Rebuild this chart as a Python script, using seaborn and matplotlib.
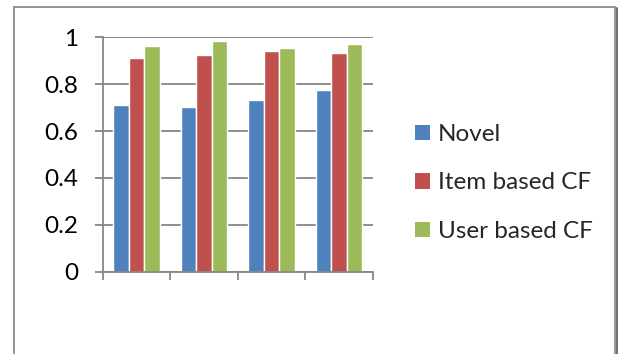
import matplotlib
matplotlib.use("Agg")
import matplotlib.pyplot as plt
from matplotlib.patches import Rectangle, Patch
from matplotlib.lines import Line2D
import seaborn as sns
import pandas as pd

# Data
groups = ["1", "2", "3", "4"]
series = ["Novel", "Item based CF", "User based CF"]
novel = [0.711, 0.703, 0.733, 0.775]
item_cf = [0.912, 0.924, 0.942, 0.933]
user_cf = [0.963, 0.984, 0.954, 0.971]
y_ticks = [0, 0.2, 0.4, 0.6, 0.8, 1]
y_tick_labels = ["0", "0.2", "0.4", "0.6", "0.8", "1"]
colors = ["#4F81BD", "#C0504D", "#9BBB59"]

df = pd.DataFrame({
    "group": groups * 3,
    "series": [s for s in series for _ in groups],
    "value": novel + item_cf + user_cf,
})

sns.set_theme(style="white")
plt.rcParams["font.family"] = ["Lato", "DejaVu Sans"]

W, H = 619, 354
fig = plt.figure(figsize=(W / 100, H / 100), dpi=100)
ax = fig.add_axes([102.7 / W, 1 - 271.7 / H, 270 / W, 234.4 / H])

sns.barplot(data=df, x="group", y="value", hue="series", hue_order=series,
            palette=colors, width=0.69, gap=0, saturation=1, ax=ax,
            legend=False, errorbar=None)

ax.set_xlim(-0.5, 3.5)
ax.set_ylim(0, 1)
ax.set_xlabel("")
ax.set_ylabel("")

grid_c = "#868686"
ax.set_yticks(y_ticks)
ax.set_yticklabels(y_tick_labels, fontsize=17.5, color="black")
ax.set_xticks([-0.5, 0.5, 1.5, 2.5, 3.5])
ax.set_xticklabels([])
ax.tick_params(axis="y", direction="out", length=5.5, width=1.3, color=grid_c, pad=12, left=True)
ax.tick_params(axis="x", direction="out", length=5.5, width=1.3, color=grid_c, bottom=True)
ax.yaxis.grid(True, color=grid_c, linewidth=1.3)
ax.set_axisbelow(True)
for side in ["top", "right"]:
    ax.spines[side].set_visible(False)
for side in ["left", "bottom"]:
    ax.spines[side].set_color(grid_c)
    ax.spines[side].set_linewidth(1.3)

# Legend at the right of the plot area
handles = [Patch(facecolor=c, edgecolor="none") for c in colors]
fig.legend(handles, series, loc="center left",
           bbox_to_anchor=(403 / W, 1 - 183 / H), frameon=False,
           fontsize=17.5, handlelength=0.62, handleheight=0.62,
           handletextpad=0.3, labelspacing=1.13, borderpad=0)

# Chart border
fig.patches.append(Rectangle((14 / W, -0.2), (615 - 14) / W, 1.2 - 7 / H,
                             transform=fig.transFigure, fill=False,
                             edgecolor="#8c8c8c", linewidth=1.3))
fig.lines.append(Line2D([617 / W, 617 / W], [0, 1 - 8 / H],
                        transform=fig.transFigure, color="#6f6f6f", linewidth=1.4))

fig.savefig("out.png", dpi=100)
